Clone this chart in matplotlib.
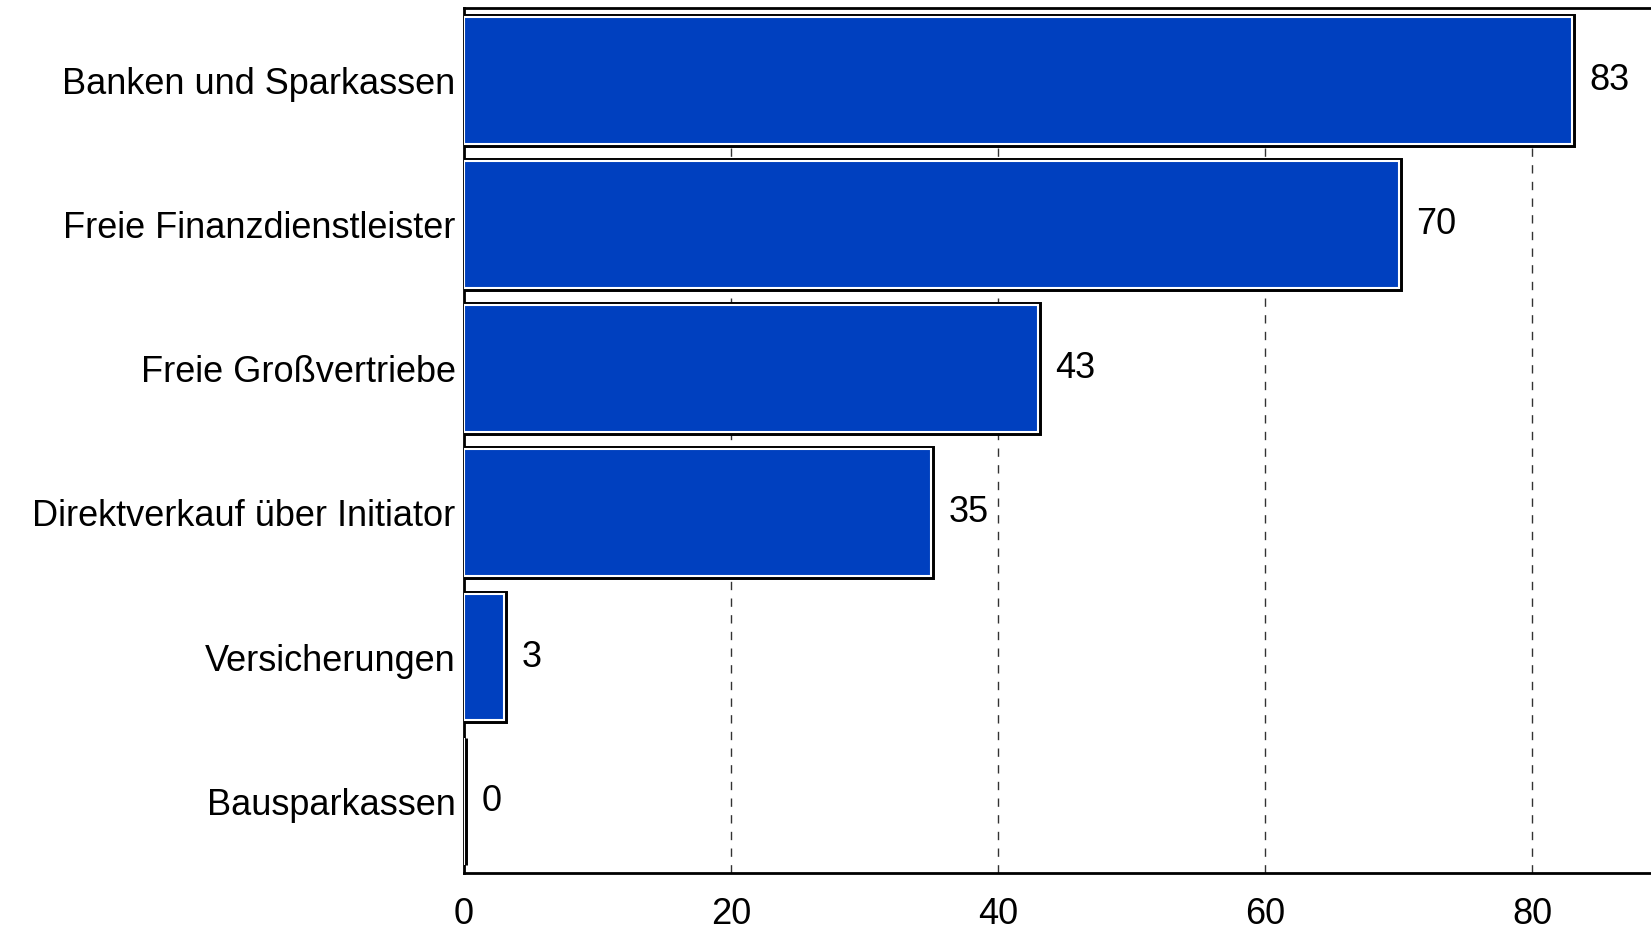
import matplotlib.pyplot as plt
import matplotlib.patheffects as pe

# categories and values (top to bottom)
labels = ["Banken und Sparkassen", "Freie Finanzdienstleister", "Freie Großvertriebe",
          "Direktverkauf über Initiator", "Versicherungen", "Bausparkassen"]
values = [83, 70, 43, 35, 3, 0]
ticks = [0, 20, 40, 60, 80]

plt.rcParams['font.family'] = ['Liberation Sans', 'DejaVu Sans']
fs = 26

fig = plt.figure(figsize=(16.51, 9.31), dpi=100)
ax = fig.add_axes([0.281, 0.062, 0.719, 0.929])

pos = list(range(len(labels)))
bars = ax.barh(pos, values, height=0.88, color='#0040BF', edgecolor='white',
               linewidth=1.5, zorder=3)
for b in bars:
    b.set_path_effects([pe.Stroke(linewidth=5, foreground='black'), pe.Normal()])

for p, v in zip(pos, values):
    ax.text(v + 1.3, p, str(v), va='center', ha='left', fontsize=fs)

ax.set_ylim(5.5, -0.5)
ax.set_xlim(0, 88.9)
ax.set_yticks(pos)
ax.set_yticklabels(labels, fontsize=fs)
ax.set_xticks(ticks)
ax.set_xticklabels([str(t) for t in ticks], fontsize=fs)
ax.tick_params(axis='both', length=0)
ax.tick_params(axis='x', pad=17)
ax.tick_params(axis='y', pad=6)

ax.grid(axis='x', linestyle=(0, (6, 6)), color='#333333', linewidth=1, zorder=0)
ax.set_axisbelow(True)
for s in ['left', 'top', 'bottom']:
    ax.spines[s].set_linewidth(2)
ax.spines['right'].set_visible(False)

fig.savefig('out.png', dpi=100)
